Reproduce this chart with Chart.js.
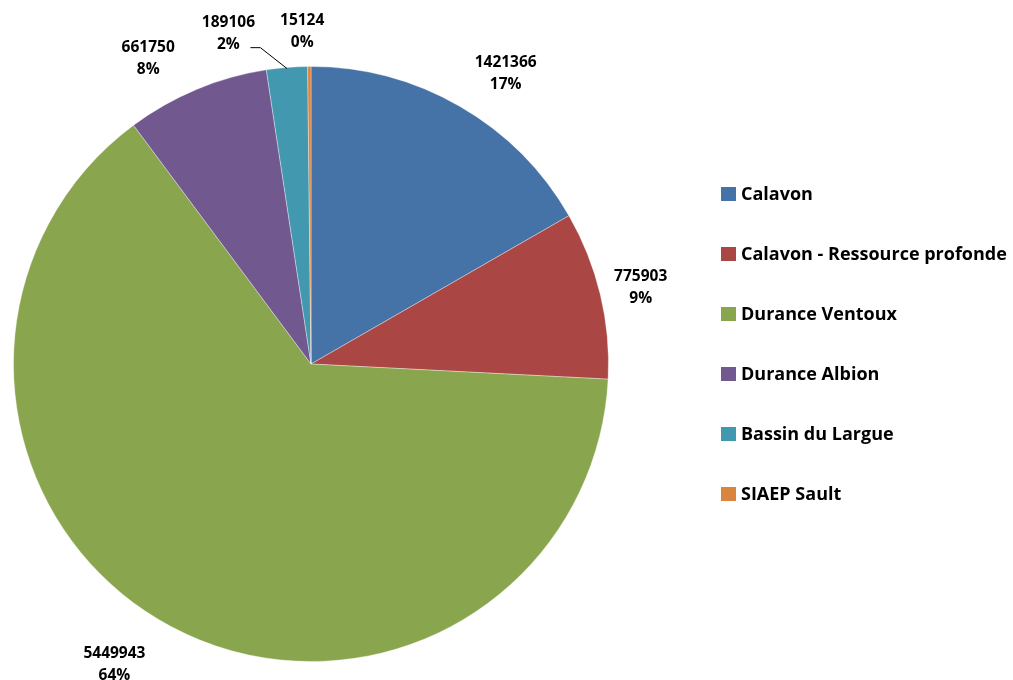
<!DOCTYPE html>
<html>
<head>
<meta charset="utf-8">
<script src="https://cdn.jsdelivr.net/npm/chart.js@4/dist/chart.umd.min.js"></script>
<style>
  html, body { margin: 0; padding: 0; background: #fff; }
  #wrap { width: 1013px; height: 680px; }
</style>
</head>
<body>
<div id="wrap"><canvas id="pie" width="1013" height="680"></canvas></div>
<script>
// Volumes par ressource
const labels = ['Calavon', 'Calavon - Ressource profonde', 'Durance Ventoux', 'Durance Albion', 'Bassin du Largue', 'SIAEP Sault'];
const volumes = [1421366, 775903, 5449943, 661750, 189106, 15124];
const colors = ['#4572A7', '#AA4643', '#89A54E', '#71588F', '#4198AF', '#DB843D'];

// placement of each value label: distance beyond the rim, angular nudge (deg)
const labelPlace = [
  { out: 52, turn: 3.8 },
  { out: 41, turn: 0.4 },
  { out: 62, turn: 5 },
  { out: 49, turn: -5.4 },
  { out: 43, turn: -9.4 },
  { out: 35, turn: -1.2 }
];

const FONT = '"Open Sans", Lato, sans-serif';

const valueLabels = {
  id: 'valueLabels',
  afterDatasetsDraw(chart) {
    const ctx = chart.ctx;
    const meta = chart.getDatasetMeta(0);
    const total = volumes.reduce((a, b) => a + b, 0);
    ctx.save();
    ctx.fillStyle = '#000';
    ctx.font = 'bold 15.5px ' + FONT;
    ctx.textAlign = 'center';
    ctx.textBaseline = 'middle';
    meta.data.forEach((arc, i) => {
      const p = arc.getProps(['x', 'y', 'startAngle', 'endAngle', 'outerRadius'], true);
      const mid = (p.startAngle + p.endAngle) / 2;
      const a = mid + labelPlace[i].turn * Math.PI / 180;
      const d = p.outerRadius + labelPlace[i].out;
      const cx = p.x + Math.cos(a) * d;
      const cy = p.y + Math.sin(a) * d;
      const pct = Math.round(volumes[i] / total * 100) + '%';
      ctx.fillText(String(volumes[i]), cx, cy - 11);
      ctx.fillText(pct, cx, cy + 11);

      // leader line for the thin Bassin du Largue slice
      if (i === 4) {
        const ex = p.x + Math.cos(mid) * p.outerRadius;
        const ey = p.y + Math.sin(mid) * p.outerRadius;
        ctx.strokeStyle = '#000';
        ctx.lineWidth = 1;
        ctx.beginPath();
        ctx.moveTo(cx + 22, cy + 14);
        ctx.lineTo(cx + 32, cy + 14);
        ctx.lineTo(ex, ey + 1);
        ctx.stroke();
      }
    });
    ctx.restore();
  }
};

const sideLegend = {
  id: 'sideLegend',
  afterDraw(chart) {
    const ctx = chart.ctx;
    const ds = chart.data.datasets[0];
    ctx.save();
    ctx.font = 'bold 18px ' + FONT;
    ctx.textBaseline = 'middle';
    ctx.textAlign = 'left';
    chart.data.labels.forEach((lab, i) => {
      const y = 194 + i * 60;
      ctx.fillStyle = ds.backgroundColor[i];
      ctx.fillRect(721, y - 7, 15, 14);
      ctx.fillStyle = '#000';
      ctx.fillText(lab, 741, y + 1);
    });
    ctx.restore();
  }
};

new Chart(document.getElementById('pie'), {
  type: 'pie',
  data: {
    labels: labels,
    datasets: [{
      data: volumes,
      backgroundColor: colors,
      borderColor: 'rgba(255,255,255,0.35)',
      borderWidth: 1
    }]
  },
  options: {
    responsive: false,
    animation: false,
    layout: { padding: { left: 12, top: 66, right: 403, bottom: 18 } },
    plugins: {
      legend: { display: false },
      tooltip: { enabled: false }
    }
  },
  plugins: [valueLabels, sideLegend]
});
</script>
</body>
</html>
